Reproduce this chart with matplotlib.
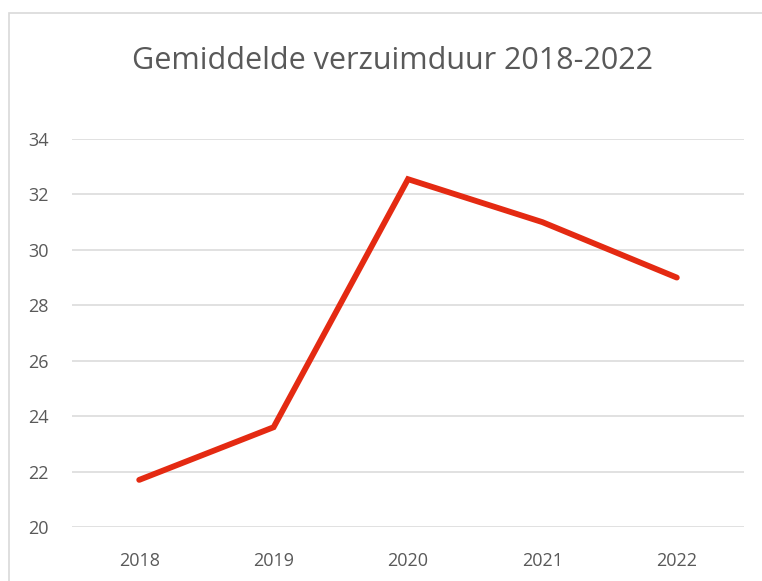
import matplotlib.pyplot as plt
from matplotlib.patches import Rectangle

years = ["2018", "2019", "2020", "2021", "2022"]
duur = [21.7, 23.6, 32.55, 31.0, 29.0]
y_ticks = [20, 22, 24, 26, 28, 30, 32, 34]

plt.rcParams['font.family'] = ['Open Sans', 'DejaVu Sans']
grey = "#595959"
W, H = 762, 581

fig = plt.figure(figsize=(W / 100, H / 100), dpi=100)
ax = fig.add_axes([72 / W, 1 - 527 / H, (744 - 72) / W, (527 - 139) / H])

# chart frame (left + top edge visible, rest cut off)
fig.patches.append(Rectangle((9 / W, -0.1), 1.2, 1 - 13 / H + 0.1,
                             transform=fig.transFigure, fill=False,
                             edgecolor="#d9d9d9", linewidth=1.2))

x = list(range(len(years)))
ax.plot(x, duur, color="#e42a12", linewidth=4.2, solid_capstyle="round",
        solid_joinstyle="miter", zorder=3)

ax.set_xlim(-0.5, len(years) - 0.5)
ax.set_ylim(20, 34)
ax.set_yticks(y_ticks)
ax.set_xticks(x)
ax.set_xticklabels(years)
ax.yaxis.grid(True, color="#d9d9d9", linewidth=1.1)
ax.set_axisbelow(True)
for s in ax.spines.values():
    s.set_visible(False)
ax.tick_params(axis="both", length=0, labelsize=13, labelcolor=grey)
ax.tick_params(axis="x", pad=18)
ax.tick_params(axis="y", pad=17)

fig.text(392 / W, 1 - 69 / H, "Gemiddelde verzuimduur 2018-2022",
         ha="center", va="baseline", fontsize=22, color=grey)

fig.savefig("out.png", dpi=100)
